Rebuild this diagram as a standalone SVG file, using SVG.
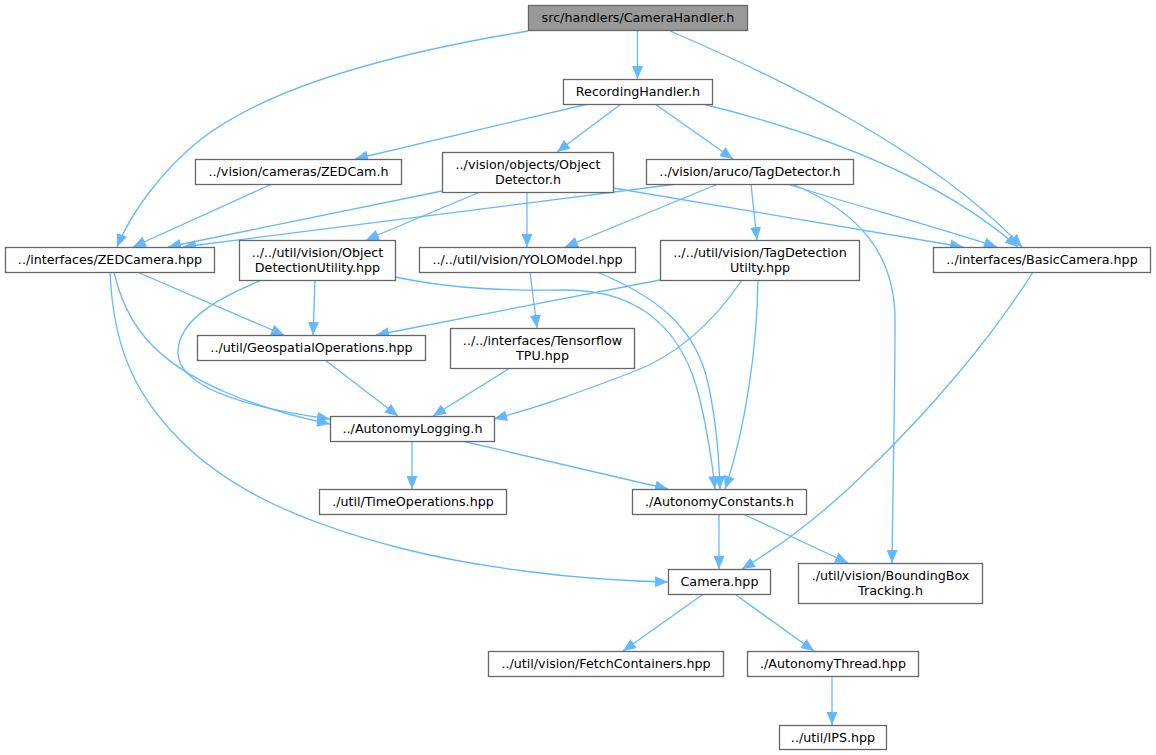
<svg xmlns="http://www.w3.org/2000/svg" width="1156" height="755" viewBox="0 0 1156 755">
<style>
.n rect{fill:#ffffff;stroke:#666666;stroke-width:1.3}
.n.root rect{fill:#999999}
.n text{font-family:"DejaVu Sans","Liberation Sans",sans-serif;font-size:12.7px;fill:#000000;text-anchor:middle}
.e path{fill:none;stroke:#63b8ff;stroke-width:1.3;marker-end:url(#arr)}
</style>
<defs>
<marker id="arr" markerWidth="13" markerHeight="11" refX="13" refY="5.5" orient="auto" markerUnits="userSpaceOnUse"><path d="M0,0 L13,5.5 L0,11 z" fill="#63b8ff"/></marker>
</defs>
<rect width="1156" height="755" fill="#ffffff"/>
<g id="edges" class="e">
<path d="M528,31 C400,52 270,85 200,140 C160,172 130,215 117,247"/>
<path d="M637.5,30 L637.5,79"/>
<path d="M670,31 C780,78 930,150 1022,247"/>
<path d="M588,104 L355,159"/>
<path d="M621,104 L557,152"/>
<path d="M655,104 L733,159"/>
<path d="M703,104 C800,128 930,170 1018,247"/>
<path d="M272,184 L133,247"/>
<path d="M442,191 L168,247"/>
<path d="M480,192 L366,240"/>
<path d="M527,192 L527,247"/>
<path d="M613,188 L963,247"/>
<path d="M677,184 L183,247"/>
<path d="M718,184 L565,247"/>
<path d="M751,184 L757,240"/>
<path d="M787,184 C850,204 930,225 997,247"/>
<path d="M792,184 C860,212 895,255 895,320 C895,400 893,480 892,563"/>
<path d="M137,272 L284,335"/>
<path d="M114,272 C125,320 150,360 225,392 C260,407 295,417 330,424"/>
<path d="M110,272 C113,340 130,390 180,440 C230,490 300,522 400,548 C470,566 570,580 668,582"/>
<path d="M315,280 L313,335"/>
<path d="M262,280 C225,295 178,318 178,352 C178,392 265,410 330,419"/>
<path d="M395,277 C440,286 480,291 565,290 C645,290 685,335 700,400 C707,430 712,460 715,489"/>
<path d="M530,272 L537,328"/>
<path d="M597,272 C655,296 692,325 706,375 C716,415 719,455 720,489"/>
<path d="M660,280 L376,335"/>
<path d="M742,280 C715,320 680,355 630,373 C580,392 540,407 494,419"/>
<path d="M758,280 C757,350 745,430 725,489"/>
<path d="M1033,272 C990,340 930,410 870,468 C830,508 790,540 742,569"/>
<path d="M325,360 L398,416"/>
<path d="M510,368 L433,416"/>
<path d="M412,441 L412,489"/>
<path d="M462,441 L668,489"/>
<path d="M719,514 L719,569"/>
<path d="M743,514 L848,563"/>
<path d="M702,595 L623,651"/>
<path d="M736,595 L814,651"/>
<path d="M832,676 L832,725"/>
</g>
<g id="node-camerahandler" class="n root"><rect x="528.5" y="5.5" width="219" height="25"/><text x="638" y="22">src/handlers/CameraHandler.h</text></g>
<g id="node-recordinghandler" class="n"><rect x="563.5" y="79.5" width="149" height="25"/><text x="638" y="96">RecordingHandler.h</text></g>
<g id="node-zedcam" class="n"><rect x="195.5" y="159.5" width="206" height="25"/><text x="298.5" y="176">../vision/cameras/ZEDCam.h</text></g>
<g id="node-objectdetector" class="n"><rect x="442.5" y="152.5" width="171" height="40"/><text x="528" y="168.5">../vision/objects/Object</text><text x="528" y="183.5">Detector.h</text></g>
<g id="node-tagdetector" class="n"><rect x="646.5" y="159.5" width="207" height="25"/><text x="750" y="176">../vision/aruco/TagDetector.h</text></g>
<g id="node-zedcamera" class="n"><rect x="5.5" y="247.5" width="209" height="25"/><text x="110" y="264">../interfaces/ZEDCamera.hpp</text></g>
<g id="node-objectdetectionutility" class="n"><rect x="239.5" y="240.5" width="156" height="40"/><text x="317.5" y="256.5">../../util/vision/Object</text><text x="317.5" y="271.5">DetectionUtility.hpp</text></g>
<g id="node-yolomodel" class="n"><rect x="419.5" y="247.5" width="216" height="25"/><text x="527.5" y="264">../../util/vision/YOLOModel.hpp</text></g>
<g id="node-tagdetectionutility" class="n"><rect x="660.5" y="240.5" width="199" height="40"/><text x="760" y="256.5">../../util/vision/TagDetection</text><text x="760" y="271.5">Utilty.hpp</text></g>
<g id="node-basiccamera" class="n"><rect x="933.5" y="247.5" width="217" height="25"/><text x="1042" y="264">../interfaces/BasicCamera.hpp</text></g>
<g id="node-geospatial" class="n"><rect x="197.5" y="335.5" width="228" height="25"/><text x="311.5" y="352">../util/GeospatialOperations.hpp</text></g>
<g id="node-tensorflow" class="n"><rect x="450.5" y="328.5" width="184" height="40"/><text x="542.5" y="344.5">../../interfaces/Tensorflow</text><text x="542.5" y="359.5">TPU.hpp</text></g>
<g id="node-autonomylogging" class="n"><rect x="330.5" y="416.5" width="164" height="25"/><text x="412.5" y="433">../AutonomyLogging.h</text></g>
<g id="node-timeoperations" class="n"><rect x="319.5" y="489.5" width="187" height="25"/><text x="413" y="506">./util/TimeOperations.hpp</text></g>
<g id="node-autonomyconstants" class="n"><rect x="632.5" y="489.5" width="174" height="25"/><text x="719.5" y="506">./AutonomyConstants.h</text></g>
<g id="node-camera" class="n"><rect x="668.5" y="569.5" width="102" height="25"/><text x="719.5" y="586">Camera.hpp</text></g>
<g id="node-boundingbox" class="n"><rect x="798.5" y="563.5" width="184" height="40"/><text x="890.5" y="579.5">./util/vision/BoundingBox</text><text x="890.5" y="594.5">Tracking.h</text></g>
<g id="node-fetchcontainers" class="n"><rect x="488.5" y="651.5" width="235" height="25"/><text x="606" y="668">../util/vision/FetchContainers.hpp</text></g>
<g id="node-autonomythread" class="n"><rect x="747.5" y="651.5" width="171" height="25"/><text x="833" y="668">./AutonomyThread.hpp</text></g>
<g id="node-ips" class="n"><rect x="779.5" y="725.5" width="107" height="24"/><text x="833" y="742">../util/IPS.hpp</text></g>
</svg>
